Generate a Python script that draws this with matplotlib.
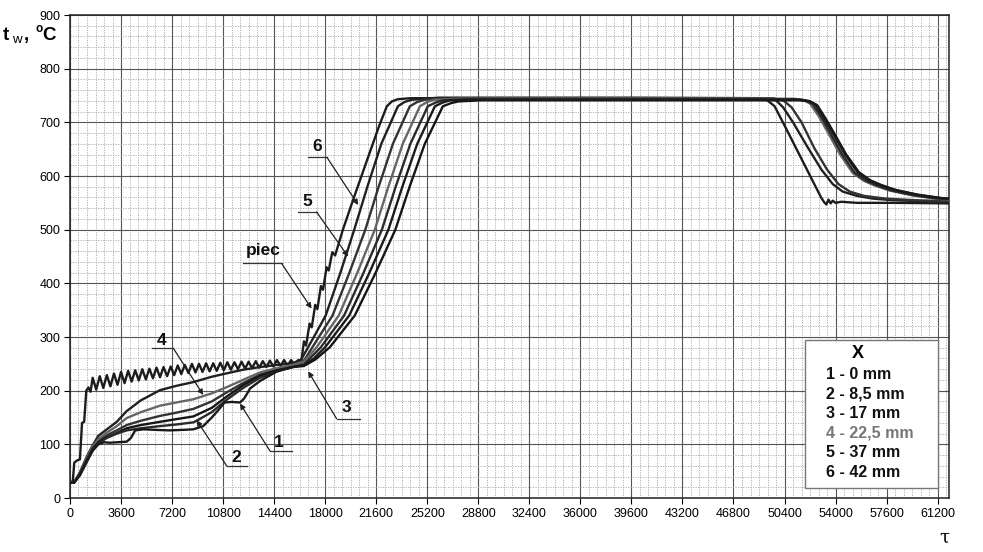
import matplotlib
matplotlib.use("Agg")
import matplotlib.pyplot as plt
from matplotlib.patches import Rectangle
from matplotlib.ticker import MultipleLocator

plt.rcParams['font.family'] = ['Liberation Sans', 'DejaVu Sans']

# furnace ("piec") temperature, with the controller zigzag
piec_t = [0, 200, 300, 500, 700, 850, 1000, 1150, 1300, 1450,
          1600, 1850, 2100, 2350, 2600, 2850, 3100, 3350, 3600, 3850,
          4100, 4350, 4600, 4850, 5100, 5350, 5600, 5850, 6100, 6350,
          6600, 6850, 7100, 7350, 7600, 7850, 8100, 8350, 8600, 8850,
          9100, 9350, 9600, 9850, 10100, 10350, 10600, 10850, 11100, 11350,
          11600, 11850, 12100, 12350, 12600, 12850, 13100, 13350, 13600, 13850,
          14100, 14350, 14600, 14850, 15100, 15350, 15600, 15850, 16100,
          16300, 16500, 16650, 16900, 17050, 17300, 17450, 17700, 17850, 18100,
          18250, 18500, 18700, 19250, 20000, 21000, 21800, 22350, 22700, 23100,
          24000, 30000, 40000, 48700, 49200, 49700, 50500, 51500, 52500, 53000,
          53200, 53350, 53500, 53650, 53800, 54000, 54400, 55500, 58000, 62000]
piec_y = [30, 31, 66, 70, 72, 140, 142, 200, 206, 198,
          224, 202, 227, 205, 229, 208, 232, 211, 235, 214,
          237, 217, 238, 219, 240, 221, 241, 223, 243, 225,
          244, 227, 245, 229, 247, 231, 248, 233, 250, 234,
          250, 235, 251, 236, 251, 237, 252, 238, 253, 239,
          253, 240, 254, 241, 254, 242, 255, 243, 255, 244,
          256, 245, 257, 246, 257, 247, 257, 248, 257,
          250, 292, 284, 325, 318, 360, 352, 395, 388, 430,
          424, 458, 452, 500, 558, 633, 693, 730, 739, 743,
          745, 745, 745, 745, 741, 730, 689, 637, 585, 559,
          551, 547, 556, 549, 554, 550, 552, 550, 550, 549]

# 1 - 0 mm
t1 = [0, 300, 700, 1200, 1600, 2000, 2400, 2800, 3400, 4000, 4300, 4600, 5200, 6000,
      7000, 8000, 8700, 9400, 10000, 10500, 10900, 11400, 12000, 12300, 12700, 13400,
      14600, 15700, 16500, 17200, 18000, 19695, 21122, 22460, 23444, 24494, 25740,
      26300, 26800, 28500, 40000, 51400, 52100, 52600, 53200, 53750, 54650, 55550,
      56350, 57150, 58150, 59750, 61350, 62000]
y1 = [28, 29, 42, 68, 88, 100, 104, 103, 104, 105, 112, 126, 128, 127,
      126, 127, 128, 134, 150, 165, 178, 179, 178, 186, 204, 218,
      236, 244, 248, 260, 281, 340, 420, 500, 580, 660, 730,
      737, 741, 742, 742, 742, 740, 733, 708, 683, 641, 607,
      592, 583, 574, 565, 559, 558]

# 2 - 8,5 mm
t2 = [0, 300, 700, 1200, 1600, 2000, 2600, 3300, 4000, 5000, 6350, 7500, 8700, 9000,
      10000, 11000, 12200, 13400, 14600, 15700, 16500, 17700, 19334, 20710, 22000,
      22972, 24009, 25240, 25800, 26300, 28000, 40000, 51200, 51900, 52400, 53000,
      53550, 54450, 55350, 56150, 56950, 57950, 59550, 61150, 62000]
y2 = [28, 29, 44, 70, 90, 102, 112, 120, 126, 130, 134, 137, 141, 145,
      160, 182, 205, 224, 236, 244, 249, 281, 340, 420, 500,
      580, 660, 730, 737, 741, 743, 743, 743, 741, 734, 710,
      684, 641, 606, 591, 582, 573, 564, 558, 557]

# 3 - 17 mm
t3 = [0, 300, 700, 1200, 1600, 2000, 2600, 3300, 4000, 5000, 6350, 7500, 8700, 10000,
      11000, 12200, 13400, 14600, 15700, 16500, 17300, 18330, 20086, 21564, 22950,
      23955, 25027, 26300, 26900, 27400, 29000, 40000, 51500, 52200, 52700, 53300,
      53850, 54750, 55650, 56450, 57250, 58250, 59850, 61450, 62000]
y3 = [28, 29, 45, 72, 92, 104, 113, 121, 130, 136, 142, 147, 152, 168,
      188, 210, 228, 238, 244, 246, 258, 281, 340, 420, 500,
      580, 660, 730, 736, 739, 741, 741, 741, 739, 732, 707,
      682, 640, 607, 592, 583, 574, 565, 559, 558]

# 4 - 22,5 mm
t4 = [0, 300, 700, 1200, 1600, 2000, 2600, 3300, 4000, 5000, 6350, 7500, 8700, 10000,
      11000, 12200, 13400, 14600, 15700, 16500, 17400, 18958, 20270, 21500, 22454,
      23472, 24680, 25200, 25700, 27500, 40000, 51000, 51700, 52200, 52800, 53400,
      54300, 55200, 56000, 56800, 57800, 59400, 61000, 62000]
y4 = [28, 29, 47, 76, 96, 110, 122, 134, 149, 160, 172, 178, 184, 195,
      206, 220, 234, 242, 248, 254, 281, 340, 420, 500, 580,
      660, 730, 738, 742, 744, 744, 744, 742, 735, 712, 684,
      641, 606, 591, 582, 573, 564, 558, 556]

# 5 - 37 mm
t5 = [0, 300, 700, 1200, 1600, 2000, 2600, 3300, 4000, 5000, 6350, 7500, 8700, 10000,
      11000, 12200, 13400, 14600, 15700, 16500, 17100, 18517, 19711, 20830, 21772,
      22777, 23970, 24500, 25000, 27000, 40000, 49600, 50300, 50900, 51600, 52500,
      53400, 54200, 55000, 56000, 57500, 59500, 62000]
y5 = [28, 29, 46, 74, 94, 107, 117, 126, 136, 144, 153, 159, 166, 180,
      196, 214, 230, 240, 247, 256, 281, 340, 420, 500, 580,
      660, 730, 738, 742, 745, 745, 745, 741, 728, 700, 652,
      612, 585, 571, 563, 558, 555, 553]

# 6 - 42 mm
t6 = [0, 300, 700, 1200, 1600, 2000, 2600, 3300, 4000, 5000, 6350, 7500, 8700, 10000,
      11000, 12200, 13400, 14600, 15700, 16300, 16800, 18035, 19075, 20050, 20975,
      21960, 23130, 23600, 24100, 26000, 40000, 49200, 49800, 50300, 51000, 52000,
      53000, 53800, 54500, 55500, 56600, 58000, 60000, 62000]
y6 = [28, 29, 48, 78, 98, 116, 128, 142, 162, 182, 201, 209, 216, 226,
      232, 239, 244, 248, 251, 258, 281, 340, 420, 500, 580,
      660, 730, 738, 742, 746, 746, 745, 741, 728, 700, 655,
      612, 585, 571, 563, 558, 555, 553, 552]

legend_items = ['1 - 0 mm', '2 - 8,5 mm', '3 - 17 mm', '4 - 22,5 mm', '5 - 37 mm', '6 - 42 mm']
x_ticks = list(range(0, 61201, 3600))

fig = plt.figure(figsize=(9.83, 5.52), dpi=100)
ax = fig.add_axes([0.0712, 0.0978, 0.8942, 0.875])

ax.set_xlim(0, 62000)
ax.set_ylim(0, 900)
ax.set_xticks(x_ticks)
ax.xaxis.set_minor_locator(MultipleLocator(600))
ax.yaxis.set_major_locator(MultipleLocator(100))
ax.yaxis.set_minor_locator(MultipleLocator(20))
ax.grid(which='major', color='#555555', lw=0.8, zorder=0)
ax.grid(which='minor', color='#a8a8a8', lw=0.6, ls=(0, (1.5, 1.5)), zorder=0)
ax.tick_params(which='major', direction='out', length=4, width=0.8, labelsize=9, pad=3)
ax.tick_params(which='minor', length=0)
for s in ax.spines.values():
    s.set_linewidth(1.1)
    s.set_color('#222222')

lw = 1.7
ax.plot(piec_t, piec_y, color='#1c1c1c', lw=lw, zorder=3)
ax.plot(t6, y6, color='#202020', lw=lw, zorder=3)
ax.plot(t5, y5, color='#333333', lw=lw, zorder=3)
ax.plot(t4, y4, color='#666666', lw=lw, zorder=3)
ax.plot(t3, y3, color='#151515', lw=lw, zorder=3)
ax.plot(t2, y2, color='#2a2a2a', lw=lw, zorder=3)
ax.plot(t1, y1, color='#1a1a1a', lw=lw, zorder=3)

# curve labels: text, underline, leader with arrowhead
notes = [
    # text, text centre, underline x0, x1, y, leader start, arrow tip
    ('6', (17450, 655), 16780, 18120, 635, (18120, 635), (20330, 546)),
    ('5', (16750, 552), 16100, 17390, 533, (17390, 533), (19620, 450)),
    ('piec', (13630, 461), 12220, 14930, 437, (14930, 437), (17040, 353)),
    ('4', (6450, 294), 5760, 7290, 279, (7290, 279), (9400, 192)),
    ('3', (19500, 168), 18800, 20450, 148, (18800, 148), (16800, 236)),
    ('1', (14750, 104), 14100, 15630, 88, (14100, 88), (11990, 176)),
    ('2', (11750, 76), 11050, 12460, 60, (11050, 60), (8930, 145)),
]
for txt, pos, ux0, ux1, uy, start, tip in notes:
    ax.text(pos[0], pos[1], txt, ha='center', va='center', fontsize=12.5,
            fontweight='bold', color='#111111', zorder=6)
    ax.plot([ux0, ux1], [uy, uy], color='#333333', lw=0.9, zorder=6)
    ax.annotate('', xy=tip, xytext=start,
                arrowprops=dict(arrowstyle='-|>', color='#222222', lw=0.9,
                                mutation_scale=8, shrinkA=0, shrinkB=0),
                zorder=6)

# legend box
ax.add_patch(Rectangle((0.836, 0.0207), 0.1515, 0.306, transform=ax.transAxes,
                       facecolor='white', edgecolor='#777777', lw=1.0, zorder=7))
ax.text(0.896, 0.300, 'X', transform=ax.transAxes, ha='center', va='center',
        fontsize=13, fontweight='bold', zorder=8)
leg_y = [0.2547, 0.2153, 0.176, 0.1346, 0.0932, 0.0538]
for i, item in enumerate(legend_items):
    ax.text(0.860, leg_y[i], item, transform=ax.transAxes, ha='left', va='center',
            fontsize=11.5, fontweight='bold',
            color='#777777' if i == 3 else '#111111', zorder=8)

# axis titles
fig.text(3 / 983, 1 - 40 / 552, 't', fontsize=13.5, fontweight='bold', va='baseline')
fig.text(12 / 983, 1 - 43 / 552, 'w', fontsize=9.5, va='baseline')
fig.text(24 / 983, 1 - 40 / 552, ',', fontsize=13.5, fontweight='bold', va='baseline')
fig.text(35 / 983, 1 - 32 / 552, 'o', fontsize=8.5, fontweight='bold', va='baseline')
fig.text(42 / 983, 1 - 40 / 552, 'C', fontsize=13.5, fontweight='bold', va='baseline')
fig.text(944 / 983, 1 - 538 / 552, 'τ', fontsize=13, family='DejaVu Serif',
         ha='center', va='center')

fig.savefig('out.png', dpi=100)
